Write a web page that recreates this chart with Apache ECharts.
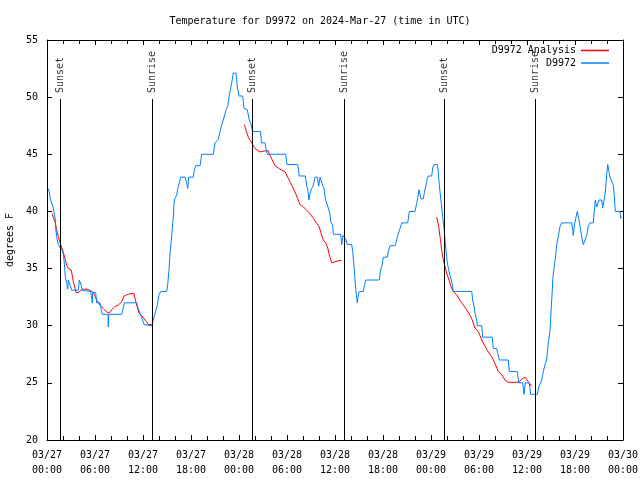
<!DOCTYPE html>
<html><head><meta charset="utf-8">
<script src="https://cdn.jsdelivr.net/npm/echarts@6/dist/echarts.min.js"></script>
<style>html,body{margin:0;padding:0;background:#fff}#c{width:640px;height:480px}</style>
</head><body><div id="c"></div><script>
// x = hours since 2024-03-27 00:00 UTC
const tickLabels = ["03/27\n00:00","03/27\n06:00","03/27\n12:00","03/27\n18:00","03/28\n00:00","03/28\n06:00","03/28\n12:00","03/28\n18:00","03/29\n00:00","03/29\n06:00","03/29\n12:00","03/29\n18:00","03/30\n00:00"];

const obsHours = [0.16,0.29,0.41,0.66,0.79,1.04,1.09,1.21,1.41,1.66,1.88,2.04,2.16,2.29,2.46,2.59,2.66,2.88,3.09,3.29,3.91,4.04,4.21,4.29,4.41,5.46,5.59,5.66,5.71,6.09,6.21,6.63,6.75,6.91,7.63,7.66,7.71,9.34,9.54,9.66,11.21,11.34,11.63,12.13,13.09,13.29,13.5,13.79,14.0,14.21,14.96,15.09,15.25,15.38,15.54,15.66,15.79,15.88,15.96,16.21,16.34,16.54,16.71,17.25,17.46,17.59,17.71,18.29,18.41,18.59,19.13,19.34,20.79,21.0,21.41,21.63,21.84,22.04,22.38,22.59,22.79,23.0,23.29,23.63,23.79,24.0,24.46,24.63,25.04,25.25,25.5,25.71,26.69,26.81,27.25,27.38,27.54,29.84,30.0,31.34,31.54,32.29,32.46,32.59,32.75,32.88,33.09,33.29,33.5,33.79,33.96,34.13,34.34,34.46,34.63,34.79,35.04,35.16,35.38,35.46,35.71,35.79,36.71,36.84,37.0,37.25,37.38,37.54,38.09,38.21,38.34,38.46,38.54,38.71,38.79,38.91,39.04,39.54,39.71,39.84,41.54,41.71,41.88,42.04,42.54,42.66,42.88,43.5,43.71,43.84,44.13,44.34,45.09,45.29,46.0,46.21,46.34,46.5,46.63,46.75,47.04,47.16,47.38,47.54,47.66,48.09,48.21,48.38,48.79,48.91,49.0,49.13,49.29,49.46,49.63,49.75,49.88,50.04,50.21,50.38,50.54,50.66,50.79,53.09,53.21,53.38,53.5,53.71,53.79,54.34,54.46,55.66,55.79,56.21,56.34,56.54,57.66,57.79,58.79,58.96,59.46,59.63,59.79,60.29,60.46,61.29,61.5,61.71,61.84,62.04,62.25,62.46,62.66,62.88,63.0,63.13,63.25,63.41,63.59,63.71,63.91,64.13,64.34,65.59,65.71,65.79,65.91,66.09,66.29,66.46,66.63,66.84,67.04,67.25,67.46,67.66,67.88,68.29,68.41,68.54,68.71,68.84,69.0,69.34,69.46,69.63,69.79,69.96,70.09,70.21,70.38,70.59,70.79,70.88,71.04,71.63,71.71,71.88];
const obsTemps = [42.0,41.7,41.1,41.0,40.3,39.3,38.5,37.8,37.1,37.1,36.6,36.3,35.5,34.3,33.7,33.2,34.0,34.0,33.1,33.0,33.1,34.0,34.0,33.5,33.1,33.0,32.4,32.0,32.9,32.9,32.0,32.0,31.5,31.0,31.0,29.9,31.0,31.0,31.6,32.0,32.0,31.6,31.1,30.1,30.0,30.5,31.1,31.8,32.7,33.0,33.0,33.6,34.9,36.3,37.5,38.5,39.5,40.7,41.1,41.4,42.0,42.5,43.0,43.0,42.5,42.0,43.0,43.0,43.6,44.0,44.0,45.0,45.0,46.0,46.3,47.0,47.6,48.0,48.9,49.2,50.2,50.9,52.1,52.1,50.9,50.1,50.1,49.0,48.9,48.1,47.6,47.0,47.0,46.0,46.0,45.5,45.0,45.0,44.1,44.1,43.1,43.1,42.3,41.9,41.0,41.6,42.0,42.3,43.0,43.0,42.2,43.0,43.0,42.3,42.0,41.1,41.0,40.3,39.7,39.1,38.8,38.0,38.0,37.1,37.9,37.9,37.5,37.1,37.1,36.5,35.5,34.4,33.6,32.4,32.0,32.7,33.0,33.0,33.6,34.0,34.0,34.9,35.3,36.0,36.0,36.5,37.0,37.0,37.5,37.9,38.5,39.0,39.0,40.0,40.0,40.7,41.2,41.9,42.0,41.1,41.1,41.6,42.3,42.9,43.1,43.1,43.8,44.1,44.1,43.5,42.6,41.7,40.7,39.5,38.5,37.5,36.6,35.5,34.9,34.4,34.0,33.6,33.0,33.0,32.25,31.7,31.1,30.5,30.0,30.0,29.0,29.0,28.0,28.0,27.6,27.0,27.0,26.0,26.0,25.0,25.0,24.0,25.0,25.0,24.0,24.0,24.7,25.0,25.25,26.0,26.6,27.0,28.5,29.6,31.2,32.7,34.3,35.2,36.2,37.1,37.8,38.7,39.0,39.0,38.4,37.9,38.7,39.4,40.0,39.4,38.7,37.8,37.1,37.1,37.9,38.7,39.0,39.0,40.0,41.0,40.4,40.7,41.0,41.0,40.3,41.0,41.7,43.2,44.1,43.6,43.0,42.9,42.3,41.6,40.0,40.0,39.4,39.5];

// null marks a gap between analysis runs
const anaHours = [0.63,0.79,1.0,1.21,1.41,1.71,1.96,2.25,2.46,2.66,3.0,3.16,3.29,3.5,3.63,3.91,4.21,4.54,4.96,5.38,5.79,6.21,6.63,7.04,7.46,7.79,8.09,8.5,8.91,9.34,9.63,9.96,10.38,10.88,11.0,11.21,11.5,11.84,12.13,12.46,12.66,13.09,
  18.0,
  24.66,24.88,25.16,25.59,26.0,26.63,27.25,27.66,27.88,28.16,28.5,28.91,29.34,29.75,30.16,30.59,31.0,31.41,31.63,32.04,32.46,32.88,33.29,33.71,34.0,34.25,34.54,34.88,35.09,35.29,35.59,36.0,36.79,
  42.0,
  48.71,48.96,49.13,49.34,49.54,49.75,49.96,50.25,50.5,50.79,51.21,51.63,52.04,52.46,52.88,53.16,53.5,53.91,54.34,54.75,55.16,55.59,56.0,56.41,56.84,57.25,57.66,58.91,59.34,59.75,60.16,60.59];
const anaTemps = [39.8,39.8,39.1,38.4,37.8,37.1,36.6,35.9,35.3,35.0,34.9,34.4,33.85,33.3,32.9,32.9,33.1,33.2,33.2,33.1,32.9,32.25,31.8,31.5,31.2,31.1,31.4,31.7,31.8,32.1,32.6,32.7,32.8,32.8,32.4,31.8,31.1,30.9,30.6,30.35,30.1,30.1,
  null,
  47.6,47.1,46.5,46.0,45.5,45.2,45.3,45.3,44.9,44.5,44.0,43.8,43.6,43.5,42.9,42.3,41.7,41.0,40.6,40.4,40.1,39.8,39.4,38.95,38.7,38.1,37.5,37.2,36.8,36.2,35.5,35.6,35.75,
  null,
  39.5,38.7,37.8,36.6,35.75,35.2,34.6,34.0,33.4,33.0,32.7,32.2,31.8,31.4,30.9,30.5,29.8,29.5,28.75,28.2,27.7,27.3,26.7,26.0,25.7,25.25,25.05,25.05,25.3,25.5,25.1,24.7];

const sunHours = [1.66,13.16,25.66,37.16,49.66,61.04];
const sunNames = ["Sunset","Sunrise","Sunset","Sunrise","Sunset","Sunrise"];

const FONT = "DejaVu Sans Mono";
const yMin = 20, yMax = 55, lineTop = 49.84, labelBase = 50.36;

const obsData = obsHours.map((h,i)=>[h, obsTemps[i]]);
const anaData = anaHours.map((h,i)=> anaTemps[i] === null ? [h,'-'] : [h, anaTemps[i]]);
const sunLabelData = sunHours.map((h,i)=>({value:[h,labelBase], name:sunNames[i]}));
const sunLines = sunHours.map(h=>[{coord:[h,yMin]},{coord:[h,lineTop]}]);

const chart = echarts.init(document.getElementById('c'), null, {renderer:'canvas'});
const axisCommon = {
  type:'value', min:0, max:72, interval:6,
  axisLine:{show:true, onZero:false, lineStyle:{color:'#000', width:1}},
  axisTick:{show:true, inside:true, length:5, lineStyle:{color:'#000'}},
  minorTick:{show:true, splitNumber:3, length:4, lineStyle:{color:'#000'}},
  splitLine:{show:false}
};
chart.setOption({
  animation:false,
  backgroundColor:'#fff',
  title:{text:'Temperature for D9972 on 2024-Mar-27 (time in UTC)', left:'center', top:11,
    textStyle:{fontFamily:FONT, fontSize:10, fontWeight:'normal', color:'#000'}},
  grid:{left:47, right:17, top:40, bottom:40, containLabel:false, outerBoundsMode:'none'},
  legend:{
    data:['D9972 Analysis','D9972'], orient:'vertical', right:26, top:39.5, align:'right',
    icon:'rect', itemWidth:28, itemHeight:1.5, itemGap:0.5,
    textStyle:{fontFamily:FONT, fontSize:10, color:'#000', lineHeight:12}
  },
  xAxis:[
    Object.assign({}, axisCommon, {position:'bottom',
      axisLabel:{show:true, fontFamily:FONT, fontSize:10, color:'#000', lineHeight:15, margin:8,
        formatter:(v)=>tickLabels[Math.round(v/6)]}}),
    Object.assign({}, axisCommon, {position:'top', axisLabel:{show:false}})
  ],
  yAxis:[
    {type:'value', min:yMin, max:yMax, interval:5, position:'left',
      name:'degrees F', nameLocation:'middle', nameRotate:90, nameGap:32,
      nameTextStyle:{fontFamily:FONT, fontSize:10, color:'#000'},
      axisLine:{show:true, onZero:false, lineStyle:{color:'#000'}},
      axisTick:{show:true, inside:true, length:5, lineStyle:{color:'#000'}},
      axisLabel:{fontFamily:FONT, fontSize:10, color:'#000', margin:9},
      splitLine:{show:false}},
    {type:'value', min:yMin, max:yMax, interval:5, position:'right',
      axisLine:{show:true, onZero:false, lineStyle:{color:'#000'}},
      axisTick:{show:true, inside:true, length:5, lineStyle:{color:'#000'}},
      axisLabel:{show:false}, splitLine:{show:false}}
  ],
  series:[
    {name:'sun', type:'scatter', data:sunLabelData, symbolSize:0, silent:true,
      label:{show:true, formatter:(p)=>p.name, position:[0,0], rotate:90, align:'left', verticalAlign:'middle',
        fontFamily:FONT, fontSize:10, color:'#000'},
      markLine:{silent:true, symbol:['none','none'], label:{show:false},
        lineStyle:{color:'#000', width:1, type:'solid'}, data:sunLines}},
    {name:'D9972 Analysis', type:'line', data:anaData, showSymbol:false, symbol:'none',
      connectNulls:false, lineStyle:{color:'#ff0000', width:1}, itemStyle:{color:'#ff0000'}},
    {name:'D9972', type:'line', data:obsData, showSymbol:false, symbol:'none',
      lineStyle:{color:'#0080ff', width:1}, itemStyle:{color:'#0080ff'}}
  ]
});
</script></body></html>
